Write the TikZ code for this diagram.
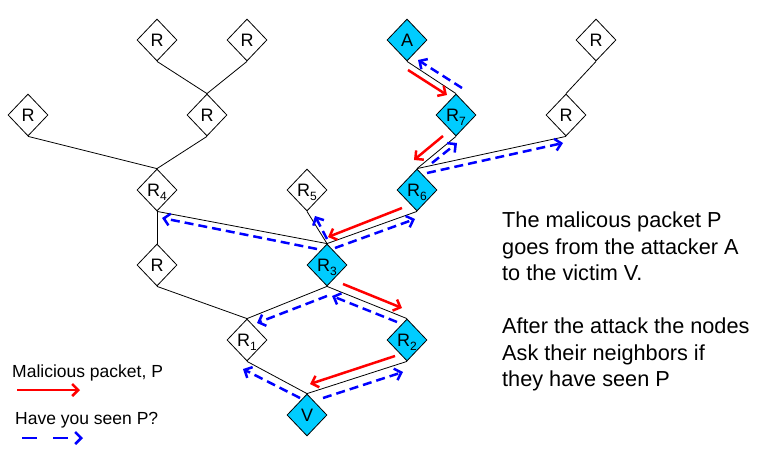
\documentclass[tikz,border=0pt]{standalone}
\usepackage{fontspec}
\setmainfont{Liberation Sans}
\usetikzlibrary{shapes.geometric,arrows.meta}
\definecolor{nodecyan}{RGB}{0,204,255}
\definecolor{pktred}{RGB}{255,0,0}
\definecolor{askblue}{RGB}{0,0,255}
\newcommand\rsub[1]{\raisebox{-4.5pt}[0pt][0pt]{\fontsize{12}{12}\selectfont #1}}
\begin{document}
\begin{tikzpicture}[x=1pt,y=-1pt,
  router/.style={diamond, draw=black, line width=0.8pt, fill=white,
    minimum width=40pt, minimum height=42pt, inner sep=0pt,
    font=\fontsize{18}{18}\selectfont},
  hot/.style={router, fill=nodecyan},
  link/.style={draw=black, line width=0.8pt},
  pkt/.style={draw=pktred, line width=2.5pt, -{Straight Barb[length=6pt,width=12pt]}},
  ask/.style={draw=askblue, line width=2.5pt, dash pattern=on 9pt off 5pt,
    -{Straight Barb[length=6pt,width=12pt]}},
  asklegend/.style={ask, dash pattern=on 15pt off 16pt},
  body/.style={anchor=base west, inner sep=0pt, font=\fontsize{21.7}{26}\selectfont},
  legend/.style={anchor=base west, inner sep=0pt, font=\fontsize{17.5}{20}\selectfont}
]
\useasboundingbox (0,0) rectangle (760,476);

% routers
\node[router] (Ra) at (157,40) {R};
\node[router] (Rb) at (247,40) {R};
\node[router] (Rc) at (28,115) {R};
\node[router] (Rd) at (207,115) {R};
\node[router] (R4) at (157,190) {R\rsub{4}};
\node[router] (Re) at (157,265) {R};
\node[router] (R5) at (307,190) {R\rsub{5}};
\node[hot]    (R3) at (327,265) {R\rsub{3}};
\node[hot]    (R6) at (417,190) {R\rsub{6}};
\node[hot]    (R7) at (456,115) {R\rsub{7}};
\node[hot]    (A)  at (407,40)  {A};
\node[router] (Rf) at (596,40)  {R};
\node[router] (Rg) at (566,115) {R};
\node[router] (R1) at (247,340) {R\rsub{1}};
\node[hot]    (R2) at (407,340) {R\rsub{2}};
\node[hot]    (V)  at (307,415) {V};

% links
\draw[link] (Ra.south) -- (Rd.north);
\draw[link] (Rb.south) -- (Rd.north);
\draw[link] (Rc.south) -- (R4.north);
\draw[link] (Rd.south) -- (R4.north);
\draw[link] (R4.south) -- (Re.north);
\draw[link] (R4.south) -- (R3.north);
\draw[link] (R5.south) -- (R3.north);
\draw[link] (R6.south) -- (R3.north);
\draw[link] (Re.south) -- (R1.north);
\draw[link] (R3.south) -- (R1.north);
\draw[link] (R3.south) -- (R2.north);
\draw[link] (R1.south) -- (V.north);
\draw[link] (R2.south) -- (V.north);
\draw[link] (R6.north) -- (R7.south);
\draw[link] (R6.north) -- (Rg.south);
\draw[link] (R7.north) -- (A.south);
\draw[link] (Rg.north) -- (Rf.south);

% malicious packet path
\draw[pkt] ([shift={(1,30)}]A.center) -- ([shift={(-9,-20)}]R7.center);
\draw[pkt] ([shift={(-13,21)}]R7.center) -- ([shift={(-3,-30)}]R6.center);
\draw[pkt] ([shift={(-15,18)}]R6.center) -- ([shift={(1,-28)}]R3.center);
\draw[pkt] ([shift={(16,19)}]R3.center) -- ([shift={(-5,-32)}]R2.center);
\draw[pkt] ([shift={(-12,16)}]R2.center) -- ([shift={(3,-31)}]V.center);

% "have you seen P?" queries
\draw[ask] ([shift={(6,-27)}]R7.center) -- ([shift={(11,20)}]A.center);
\draw[ask] ([shift={(15,-27)}]R6.center) -- ([shift={(1,28)}]R7.center);
\draw[ask] ([shift={(10,-17)}]R6.center) -- ([shift={(-3,28)}]Rg.center);
\draw[ask] ([shift={(8,-17)}]R3.center) -- ([shift={(-2,29)}]R6.center);
\draw[ask] ([shift={(0,-26)}]R3.center) -- ([shift={(8,26)}]R5.center);
\draw[ask] ([shift={(-10,-16)}]R3.center) -- ([shift={(5,28)}]R4.center);
\draw[ask] ([shift={(-10,-18)}]R2.center) -- ([shift={(5,31)}]R3.center);
\draw[ask] ([shift={(0,31)}]R3.center) -- ([shift={(10,-17)}]R1.center);
\draw[ask] ([shift={(16,-17)}]V.center) -- ([shift={(-4,32)}]R2.center);
\draw[ask] ([shift={(-7,-17)}]V.center) -- ([shift={(-4,29)}]R1.center);

% legend
\node[legend] (lg1) at (12,377) {Malicious packet, P};
\coordinate (lr0) at (17,390);
\coordinate (lr1) at (80,390);
\draw[pkt] (lr0) -- (lr1);
\node[legend] (lg2) at (15,424) {Have you seen P?};
\coordinate (lb0) at (22,438);
\coordinate (lb1) at (83,438);
\draw[asklegend] (lb0) -- (lb1);

% explanation
\node[body] (t1) at (502,227.5) {The malicous packet P};
\node[body] (t2) at (502,254) {goes from the attacker A};
\node[body] (t3) at (502,280.5) {to the victim V.};
\node[body] (t4) at (502,333.5) {After the attack the nodes};
\node[body] (t5) at (502,360) {Ask their neighbors if};
\node[body] (t6) at (502,386.5) {they have seen P};
\end{tikzpicture}
\end{document}
